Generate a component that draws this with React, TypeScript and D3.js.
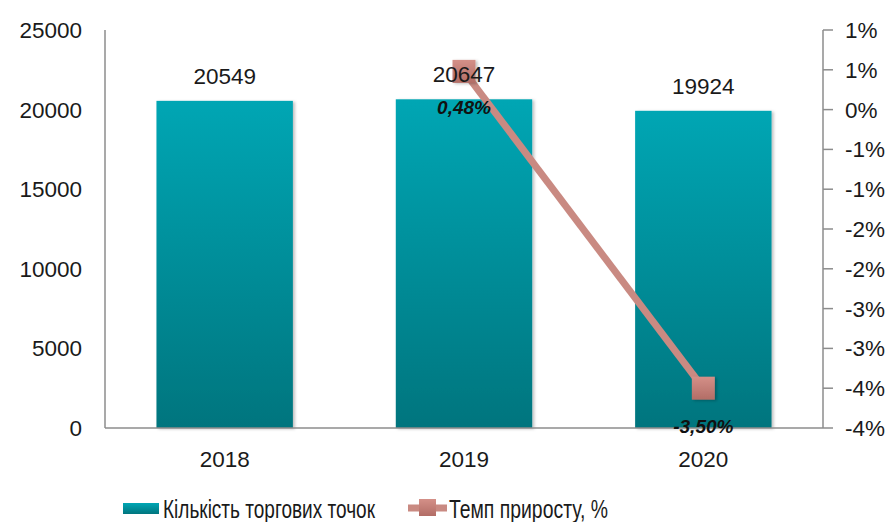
import React from "react";
import * as d3 from "d3";

const categories = ["2018", "2019", "2020"];
const counts = [20549, 20647, 19924];
const growth: (number | null)[] = [null, 0.48, -3.5];
const growthLabels = ["", "0,48%", "-3,50%"];
const leftTicks = [0, 5000, 10000, 15000, 20000, 25000];
const rightTicks = [1, 0.5, 0, -0.5, -1, -1.5, -2, -2.5, -3, -3.5, -4];
const seriesNames = ["Кількість торгових точок", "Темп приросту, %"];

const W = 892, H = 522;
const plot = { left: 105, right: 823, top: 30, bottom: 428 };
const FONT = "Arial, 'Liberation Sans', sans-serif";

function fmtPct(v: number) {
  const r = Math.sign(v) * Math.round(Math.abs(v));
  return (Object.is(r, -0) ? 0 : r) + "%";
}

export default function App() {
  const x = d3.scaleBand<string>().domain(categories).range([plot.left, plot.right]).paddingInner(0.43).paddingOuter(0.215);
  const yL = d3.scaleLinear().domain([0, 25000]).range([plot.bottom, plot.top]);
  const yR = d3.scaleLinear().domain([-4, 1]).range([plot.bottom, plot.top]);
  const cx = (c: string) => (x(c) as number) + x.bandwidth() / 2;

  const linePts = categories
    .map((c, i) => ({ c, v: growth[i] }))
    .filter((d) => d.v !== null) as { c: string; v: number }[];
  const line = d3.line<{ c: string; v: number }>().x((d) => cx(d.c)).y((d) => yR(d.v))(linePts) || "";

  const ms = 23;
  return (
    <svg width={W} height={H} style={{ position: "absolute", left: 0, top: 0, background: "#fff" }} fontFamily={FONT}>
      <defs>
        <linearGradient id="barG" x1="0" y1="0" x2="0" y2="1">
          <stop offset="0" stopColor="#00a6b4" />
          <stop offset="1" stopColor="#00757e" />
        </linearGradient>
        <linearGradient id="mkG" x1="0" y1="0" x2="0" y2="1">
          <stop offset="0" stopColor="#d49088" />
          <stop offset="1" stopColor="#b26d66" />
        </linearGradient>
        <filter id="sh" x="-10%" y="-10%" width="130%" height="130%">
          <feDropShadow dx="2" dy="1" stdDeviation="1.5" floodColor="#000" floodOpacity="0.25" />
        </filter>
      </defs>
      <rect x={0} y={0} width={W} height={H} fill="#fff" />
      {/* bars */}
      {categories.map((c, i) => (
        <rect key={c} x={x(c)} y={yL(counts[i])} width={x.bandwidth()} height={plot.bottom - yL(counts[i])} fill="url(#barG)" filter="url(#sh)" />
      ))}
      {/* axes */}
      <line x1={plot.left} x2={plot.left} y1={plot.top} y2={plot.bottom} stroke="#8c8c8c" strokeWidth={1.5} />
      <line x1={plot.right} x2={plot.right} y1={plot.top} y2={plot.bottom} stroke="#8c8c8c" strokeWidth={1.5} />
      <line x1={plot.left} x2={plot.right} y1={plot.bottom} y2={plot.bottom} stroke="#8c8c8c" strokeWidth={1.5} />
      {rightTicks.map((t) => (
        <line key={"rt" + t} x1={plot.right} x2={plot.right + 10} y1={yR(t)} y2={yR(t)} stroke="#8c8c8c" strokeWidth={1.5} />
      ))}
      {leftTicks.map((t) => (
        <text key={"lt" + t} x={82} y={yL(t) + 8} textAnchor="end" fontSize={22.5} fill="#1a1a1a">{t}</text>
      ))}
      {rightTicks.map((t) => (
        <text key={"rl" + t} x={845} y={yR(t) + 8} textAnchor="start" fontSize={22.5} fill="#1a1a1a">{fmtPct(t)}</text>
      ))}
      {categories.map((c) => (
        <text key={"xl" + c} x={cx(c)} y={467} textAnchor="middle" fontSize={22.5} fill="#1a1a1a">{c}</text>
      ))}
      {/* line */}
      <path d={line} fill="none" stroke="#c98a82" strokeWidth={7} />
      {linePts.map((d) => (
        <rect key={"mk" + d.c} x={cx(d.c) - ms / 2} y={yR(d.v) - ms / 2} width={ms} height={ms} fill="url(#mkG)" filter="url(#sh)" />
      ))}
      {/* value labels */}
      {categories.map((c, i) => (
        <text key={"vl" + c} x={cx(c)} y={yL(counts[i]) - 17} textAnchor="middle" fontSize={22.5} fill="#1a1a1a">{counts[i]}</text>
      ))}
      {categories.map((c, i) =>
        growth[i] === null ? null : (
          <text key={"gl" + c} x={cx(c)} y={i === 1 ? yR(growth[i] as number) + 43 : yR(growth[i] as number) + 45} textAnchor="middle" fontSize={19} fontWeight="bold" fontStyle="italic" fill="#111">{growthLabels[i]}</text>
        )
      )}
      {/* legend */}
      <rect x={123} y={503} width={36} height={11} fill="url(#barG)" />
      <text x={163} y={518} fontSize={25} fill="#1a1a1a" textLength={212} lengthAdjust="spacingAndGlyphs">{seriesNames[0]}</text>
      <line x1={408} x2={447} y1={508} y2={508} stroke="#c98a82" strokeWidth={7} />
      <rect x={419} y={499} width={17} height={17} fill="url(#mkG)" />
      <text x={449} y={518} fontSize={25} fill="#1a1a1a" textLength={159} lengthAdjust="spacingAndGlyphs">{seriesNames[1]}</text>
    </svg>
  );
}
